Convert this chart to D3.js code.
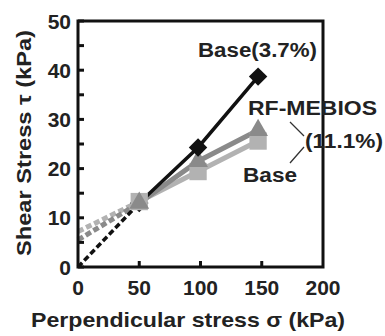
<!DOCTYPE html>
<html>
<head>
<meta charset="utf-8">
<script src="https://d3js.org/d3.v7.min.js"></script>
<style>
  body { margin: 0; background: #fff; }
  text { font-family: "Liberation Sans", Arial, sans-serif; font-weight: bold; }
</style>
</head>
<body>
<div id="chart"></div>
<script>
// data
const xTicks = [0, 50, 100, 150, 200];
const yTicks = [0, 10, 20, 30, 40, 50];

// Base(3.7%) - black diamonds
const base37 = [[50, 13], [98, 24.3], [147, 38.7]];
const base37Fit = [[0, 0], [50, 13]];
// RF-MEBIOS(11.1%) - grey triangles
const rfMebios = [[50, 13], [98, 21.5], [147, 27.8]];
const rfMebiosFit = [[0, 5.5], [50, 13]];
// Base(11.1%) - light grey squares
const base111 = [[50, 13.3], [98, 19.4], [147, 25.6]];
const base111Fit = [[0, 7.2], [50, 13.3]];

const W = 385, H = 336;
const svg = d3.select('#chart').append('svg').attr('width', W).attr('height', H);

const x = d3.scaleLinear().domain([0, 200]).range([78, 323]);
const y = d3.scaleLinear().domain([0, 50]).range([267, 21]);

const line = d3.line().x(d => x(d[0])).y(d => y(d[1]));

const sqr = { pts: base111, fit: base111Fit, color: '#b2b2b2', shape: d3.symbolSquare, size: 300, rot: 0, w: 5 };
const tri = { pts: rfMebios, fit: rfMebiosFit, color: '#8a8a8a', shape: d3.symbolTriangle, size: 170, rot: 0, w: 5 };
const dia = { pts: base37, fit: base37Fit, color: '#111', shape: d3.symbolSquare, size: 170, rot: 45, w: 3.5 };

[sqr, tri, dia].forEach(s => {
  svg.append('path').attr('d', line(s.fit)).attr('fill', 'none')
    .attr('stroke', s.color).attr('stroke-width', s.w).attr('stroke-dasharray', '6,3');
  svg.append('path').attr('d', line(s.pts)).attr('fill', 'none')
    .attr('stroke', s.color).attr('stroke-width', s.w);
});

function markers(s, pts) {
  svg.selectAll(null).data(pts).enter().append('path')
    .attr('d', d3.symbol().type(s.shape).size(s.size))
    .attr('transform', d => `translate(${x(d[0])},${y(d[1])}) rotate(${s.rot})`)
    .attr('fill', s.color);
}
// the diamond at 50 kPa sits behind the grey markers
markers(dia, dia.pts.slice(0, 1));
markers(sqr, sqr.pts);
markers(tri, tri.pts);
markers(dia, dia.pts.slice(1));

// axes, ticks pointing inward
const ax = svg.append('g').attr('stroke', '#111').attr('stroke-width', 3).attr('fill', 'none');
ax.append('rect').attr('x', x(0)).attr('y', y(50)).attr('width', x(200) - x(0)).attr('height', y(0) - y(50));

const yMinor = d3.range(5, 50, 10);
ax.selectAll(null).data(yTicks.concat(yMinor)).enter().append('line')
  .attr('x1', x(0)).attr('x2', x(0) + 6)
  .attr('y1', d => y(d)).attr('y2', d => y(d));
ax.selectAll(null).data([50, 100, 150]).enter().append('line')
  .attr('x1', d => x(d)).attr('x2', d => x(d))
  .attr('y1', y(0)).attr('y2', y(0) - 6);

svg.selectAll(null).data(yTicks).enter().append('text')
  .attr('x', 71).attr('y', d => y(d)).attr('dy', '0.36em')
  .attr('text-anchor', 'end').attr('font-size', 21).attr('fill', '#222')
  .text(d => d);
svg.selectAll(null).data(xTicks).enter().append('text')
  .attr('x', d => x(d)).attr('y', 295)
  .attr('text-anchor', 'middle').attr('font-size', 21).attr('fill', '#222')
  .text(d => d);

// axis titles
svg.append('text').attr('transform', `translate(31,143) rotate(-90)`)
  .attr('text-anchor', 'middle').attr('font-size', 20).attr('fill', '#222')
  .attr('textLength', 226).attr('lengthAdjust', 'spacingAndGlyphs')
  .text('Shear Stress τ (kPa)');
svg.append('text').attr('x', 188).attr('y', 327)
  .attr('text-anchor', 'middle').attr('font-size', 21).attr('fill', '#222')
  .attr('textLength', 314).attr('lengthAdjust', 'spacingAndGlyphs')
  .text('Perpendicular stress σ (kPa)');

// series labels
const lab = svg.append('g').attr('font-size', 20).attr('fill', '#222');
const labels = [
  { t: 'Base(3.7%)', x: 198, y: 57, w: 119 },
  { t: 'RF-MEBIOS', x: 248, y: 115, w: 129 },
  { t: '(11.1%)', x: 305, y: 148, w: 78 },
  { t: 'Base', x: 243, y: 182, w: 54 }
];
labels.forEach(l => lab.append('text').attr('x', l.x).attr('y', l.y)
  .attr('textLength', l.w).attr('lengthAdjust', 'spacingAndGlyphs').text(l.t));
svg.append('path').attr('d', 'M290,122L304,136M290,163L304,147')
  .attr('stroke', '#333').attr('stroke-width', 1.3).attr('fill', 'none');
</script>
</body>
</html>
